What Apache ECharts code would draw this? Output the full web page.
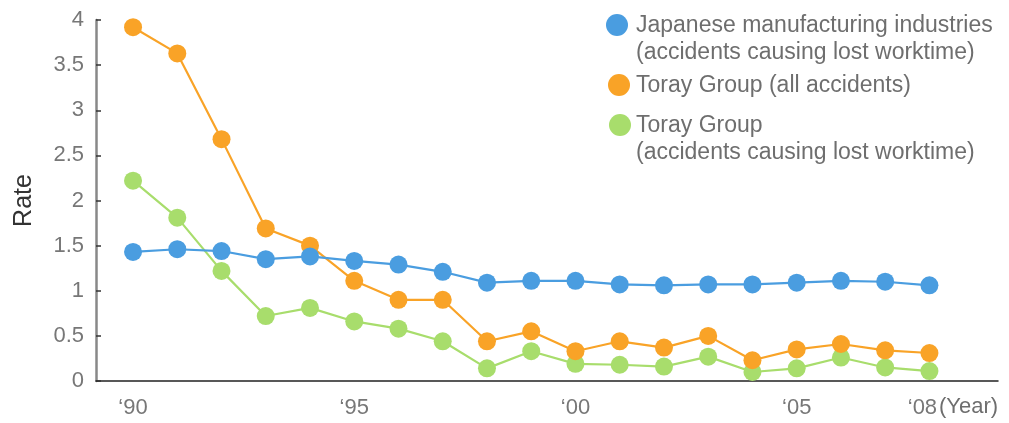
<!DOCTYPE html>
<html><head><meta charset="utf-8">
<script src="https://cdn.jsdelivr.net/npm/echarts@6/dist/echarts.min.js"></script>
<style>html,body{margin:0;padding:0;background:#fff;}#c{width:1009px;height:423px;}</style>
</head><body><div id="c"></div>
<script>
const years = [1990,1991,1992,1993,1994,1995,1996,1997,1998,1999,2000,2001,2002,2003,2004,2005,2006,2007,2008];
const xTickValues = [1990,1995,2000,2005,2008];
const xTickLabels = ["\u201890","\u201895","\u201800","\u201805","\u201808"];
const seriesNames = [
  "Japanese manufacturing industries\n(accidents causing lost worktime)",
  "Toray Group (all accidents)",
  "Toray Group\n(accidents causing lost worktime)"
];
const japanMfg = [1.43,1.46,1.44,1.35,1.38,1.33,1.29,1.21,1.09,1.11,1.11,1.07,1.06,1.07,1.07,1.09,1.11,1.10,1.06];
const torayAll = [3.92,3.63,2.68,1.69,1.50,1.11,0.90,0.90,0.44,0.55,0.33,0.44,0.37,0.50,0.23,0.35,0.41,0.34,0.31];
const torayLost = [2.22,1.81,1.22,0.72,0.81,0.66,0.58,0.44,0.14,0.33,0.19,0.18,0.16,0.27,0.10,0.14,0.26,0.15,0.11];
const colors = ['#4a9de0','#f9a327','#a8dd6c'];

const chart = echarts.init(document.getElementById('c'), null, {renderer:'canvas'});
const dataSets = [japanMfg, torayAll, torayLost];
const font = '"Liberation Sans", Arial, Helvetica, sans-serif';

const legendGraphics = [];
const legendY = [25, 85, 125];
const legendIconX = [617, 619, 620];
seriesNames.forEach((n, i) => {
  legendGraphics.push({type:'circle', shape:{cx:legendIconX[i], cy:legendY[i], r:11}, style:{fill:colors[i]}});
  legendGraphics.push({type:'text', x:636, y:legendY[i]-13, style:{text:n, font:'23px ' + font, fill:'#6e6e6e', lineHeight:27, textVerticalAlign:'top'}});
});
legendGraphics.push({type:'text', x:939, y:396, style:{text:'(Year)', font:'22px ' + font, fill:'#6e6e6e'}});

chart.setOption({
  animation:false,
  grid:{left:96, right:11, top:20, bottom:42, containLabel:false},
  xAxis:{
    type:'value', min:1989.163, max:2009.55,
    axisLine:{show:true, lineStyle:{color:'#222', width:1.5}},
    axisTick:{show:false},
    splitLine:{show:false},
    axisLabel:{customValues:xTickValues, margin:16, color:'#777', fontSize:22, fontFamily:font,
      rich:{last:{color:'#777', fontSize:22, fontFamily:font, padding:[0,14,0,0]}},
      formatter:v => {
        const k = xTickValues.indexOf(v);
        if (k < 0) return '';
        return k === xTickValues.length - 1 ? '{last|' + xTickLabels[k] + '}' : xTickLabels[k];
      }}
  },
  yAxis:{
    type:'value', min:0, max:4, interval:0.5,
    name:'Rate', nameLocation:'middle', nameGap:59, nameRotate:90,
    nameTextStyle:{color:'#333', fontSize:25, fontFamily:font},
    axisLine:{show:true, lineStyle:{color:'#888', width:2.5}},
    axisTick:{show:true, inside:true, length:5, lineStyle:{color:'#333', width:1.5}},
    splitLine:{show:false},
    axisLabel:{margin:12, color:'#777', fontSize:22, fontFamily:font}
  },
  series: dataSets.map((d, i) => ({
    type:'line', name:seriesNames[i],
    data: years.map((y, j) => [y, d[j]]),
    symbol:'circle', symbolSize:18,
    lineStyle:{color:colors[i], width:2.2},
    itemStyle:{color:colors[i]},
    z: i===0 ? 4 : (i===1 ? 3 : 2)
  })),
  graphic: legendGraphics
});
</script></body></html>
